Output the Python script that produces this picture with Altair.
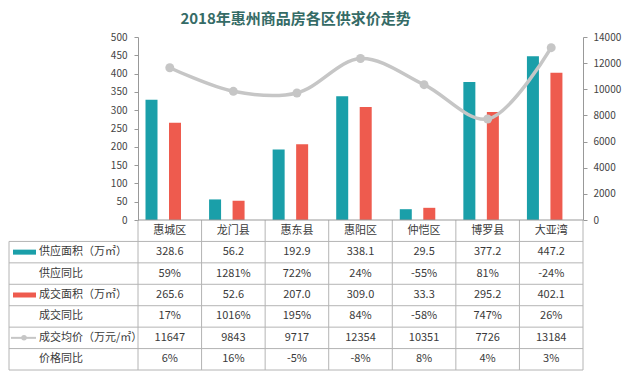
import altair as alt
import pandas as pd

# ---------------- data ----------------
categories = ["惠城区", "龙门县", "惠东县", "惠阳区", "仲恺区", "博罗县", "大亚湾"]
supply_area = [328.6, 56.2, 192.9, 338.1, 29.5, 377.2, 447.2]
supply_yoy = ["59%", "1281%", "722%", "24%", "-55%", "81%", "-24%"]
deal_area = [265.6, 52.6, 207.0, 309.0, 33.3, 295.2, 402.1]
deal_yoy = ["17%", "1016%", "195%", "84%", "-58%", "747%", "26%"]
avg_price = [11647, 9843, 9717, 12354, 10351, 7726, 13184]
price_yoy = ["6%", "16%", "-5%", "-8%", "8%", "4%", "3%"]

row_ids = ["hdr", "sa", "sy", "da", "dy", "ap", "py"]
row_labels = ["", "供应面积（万㎡）", "供应同比", "成交面积（万㎡）", "成交同比", "成交均价（万元/㎡）", "价格同比"]

left_ticks = list(range(0, 501, 50))
right_ticks = list(range(0, 14001, 2000))

# ---------------- style ----------------
W = 445
H_TOP = 183
H_TAB = 150
LABEL_COL = 129
FONT = "Noto Sans CJK SC"
TEAL = "#1a9fa9"
RED = "#ee5b4e"
GRAY = "#c6c6c6"
LINE = "#b4b4b4"
TXT = "#3a3a3a"

main_df = pd.DataFrame({"cat": categories, "supply": supply_area,
                        "deal": deal_area, "price": avg_price})

x_scale = alt.Scale(domain=categories, paddingInner=0, paddingOuter=0)
x_top = alt.X("cat:N", sort=categories, scale=x_scale, axis=None)

axis_common = dict(labelFont=FONT, labelFontSize=10, labelColor="#444",
                   domainColor="#999", tickColor="#999", tickSize=4,
                   grid=False, title=None, labelOverlap=False, format="d")

left_axis = alt.Axis(values=left_ticks, orient="left", labelPadding=7, **axis_common)
right_axis = alt.Axis(values=right_ticks, orient="right", labelPadding=6, **axis_common)
left_scale = alt.Scale(domain=[0, 500])
right_scale = alt.Scale(domain=[0, 14000])

b1 = alt.Chart(main_df).mark_bar(size=12, color=TEAL).encode(
    x=x_top,
    xOffset=alt.value(13.5),
    y=alt.Y("supply:Q", scale=left_scale, axis=left_axis),
)
b2 = alt.Chart(main_df).mark_bar(size=12, color=RED).encode(
    x=x_top,
    xOffset=alt.value(37),
    y=alt.Y("deal:Q", scale=left_scale, axis=left_axis),
)
bars = alt.layer(b1, b2)

line = alt.Chart(main_df).mark_line(interpolate="catmull-rom", strokeWidth=3.5, color=GRAY).encode(
    x=x_top, y=alt.Y("price:Q", scale=right_scale, axis=right_axis))
pts = alt.Chart(main_df).mark_circle(size=80, color=GRAY, opacity=1).encode(
    x=x_top, y=alt.Y("price:Q", scale=right_scale, axis=right_axis))
price = alt.layer(line, pts)

top = alt.layer(bars, price).resolve_scale(y="independent").properties(width=W, height=H_TOP)

# ---------------- table ----------------
tab_rows = []
for i, c in enumerate(categories):
    tab_rows.append({"row": "hdr", "cat": c, "txt": c})
    tab_rows.append({"row": "sa", "cat": c, "txt": f"{supply_area[i]:.1f}"})
    tab_rows.append({"row": "sy", "cat": c, "txt": supply_yoy[i]})
    tab_rows.append({"row": "da", "cat": c, "txt": f"{deal_area[i]:.1f}"})
    tab_rows.append({"row": "dy", "cat": c, "txt": deal_yoy[i]})
    tab_rows.append({"row": "ap", "cat": c, "txt": str(avg_price[i])})
    tab_rows.append({"row": "py", "cat": c, "txt": price_yoy[i]})
tab_df = pd.DataFrame(tab_rows)

y_scale = alt.Scale(domain=row_ids, paddingInner=0, paddingOuter=0)
x_tab = alt.X("cat:N", sort=categories, scale=x_scale, axis=None)
y_tab = alt.Y("row:N", sort=row_ids, scale=y_scale, axis=None)

cells = alt.Chart(tab_df).mark_text(font=FONT, fontSize=11, color=TXT).encode(
    x=x_tab, y=y_tab, text="txt:N")

lab_df = pd.DataFrame({"row": row_ids[1:], "label": row_labels[1:]})
labels = alt.Chart(lab_df).mark_text(font=FONT, fontSize=11, color=TXT, align="left").encode(
    x=alt.value(-99), y=y_tab, text="label:N")

cat_df = pd.DataFrame({"cat": categories})
vlines = alt.Chart(cat_df).mark_rule(color=LINE, strokeWidth=1).encode(
    x=alt.X("cat:N", sort=categories, scale=x_scale, axis=None, bandPosition=0),
    y=alt.value(0), y2=alt.value(H_TAB))
vright = alt.Chart(cat_df.head(1)).mark_rule(color=LINE, strokeWidth=1).encode(
    x=alt.value(W), y=alt.value(0), y2=alt.value(H_TAB))
vleft = alt.Chart(pd.DataFrame({"row": ["sa"]})).mark_rule(color=LINE, strokeWidth=1).encode(
    x=alt.value(-LABEL_COL),
    y=alt.Y("row:N", sort=row_ids, scale=y_scale, axis=None, bandPosition=0),
    y2=alt.value(H_TAB))
hl_df = pd.DataFrame({"row": row_ids[1:]})
hlines = alt.Chart(hl_df).mark_rule(color=LINE, strokeWidth=1).encode(
    y=alt.Y("row:N", sort=row_ids, scale=y_scale, axis=None, bandPosition=0),
    x=alt.value(-LABEL_COL), x2=alt.value(W))
hbottom = alt.Chart(cat_df.head(1)).mark_rule(color=LINE, strokeWidth=1).encode(
    y=alt.value(H_TAB), x=alt.value(-LABEL_COL), x2=alt.value(W))
htop = alt.Chart(cat_df.head(1)).mark_rule(color="#999", strokeWidth=1).encode(
    y=alt.value(0), x=alt.value(0), x2=alt.value(W))

sw_teal = alt.Chart(pd.DataFrame({"row": ["sa"]})).mark_rule(color=TEAL, strokeWidth=5, strokeCap="butt").encode(
    y=y_tab, x=alt.value(-125), x2=alt.value(-102))
sw_red = alt.Chart(pd.DataFrame({"row": ["da"]})).mark_rule(color=RED, strokeWidth=5, strokeCap="butt").encode(
    y=y_tab, x=alt.value(-125), x2=alt.value(-102))
sw_gray = alt.Chart(pd.DataFrame({"row": ["ap"]})).mark_rule(color=GRAY, strokeWidth=2).encode(
    y=y_tab, x=alt.value(-127), x2=alt.value(-102))
sw_dot = alt.Chart(pd.DataFrame({"row": ["ap"]})).mark_circle(color=GRAY, size=30, opacity=1).encode(
    y=y_tab, x=alt.value(-114))

table = alt.layer(vlines, vright, vleft, hlines, hbottom, htop,
                  sw_teal, sw_red, sw_gray, sw_dot, cells, labels).properties(width=W, height=H_TAB)

chart = alt.vconcat(top, table, spacing=0, bounds="flush").properties(
    title=alt.TitleParams("2018年惠州商品房各区供求价走势", font=FONT, fontSize=15,
                          fontWeight="bold", color="#356b66", anchor="middle", offset=5, dx=-19),
    padding={"top": 3, "left": 0, "right": 0, "bottom": 0},
    background="white",
).configure_view(stroke="transparent")

chart.save("out.html", embed_options={"renderer": "svg", "actions": False})
